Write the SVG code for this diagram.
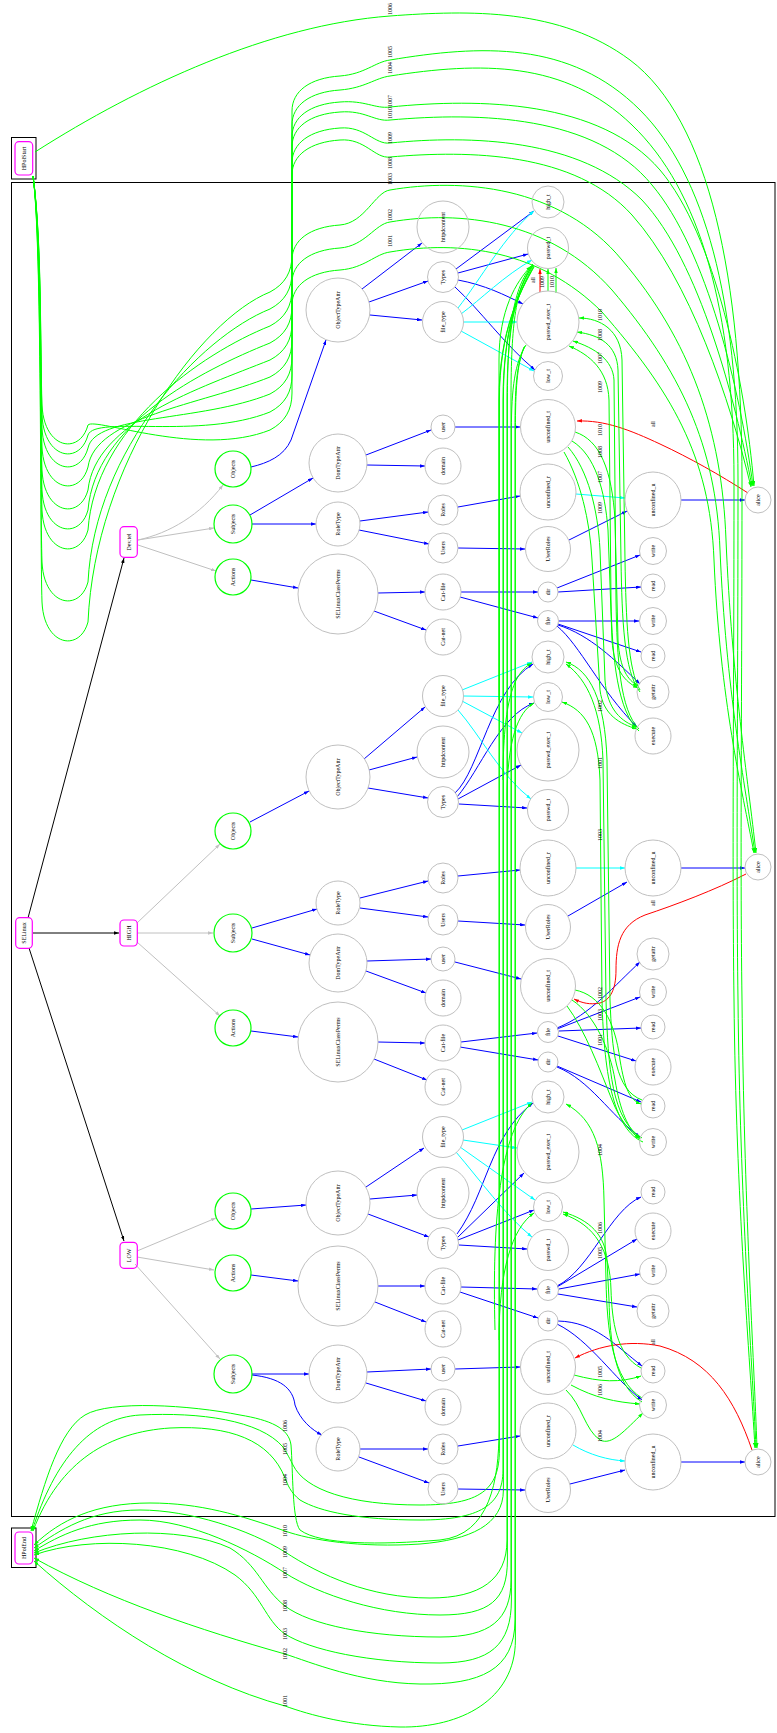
<svg xmlns="http://www.w3.org/2000/svg" width="777" height="1733" viewBox="0 0 777 1733">
<style>
text{font-family:"Liberation Serif","Times New Roman",serif;font-size:6px;text-anchor:middle;fill:#000}
.gn{fill:none;stroke:#00ff00;stroke-width:1.2}
.nn{fill:none;stroke:#c0c0c0;stroke-width:1}
.mn{fill:none;stroke:#ff00ff;stroke-width:1.2}
.cl{fill:none;stroke:#000;stroke-width:1}
.e{fill:none;stroke-width:1}
.b{stroke:#0000ff;marker-end:url(#mb)}
.c{stroke:#00ffff;marker-end:url(#mc)}
.r{stroke:#ff0000;marker-end:url(#mr)}
.k{stroke:#000;marker-end:url(#mk)}
.y{stroke:#c0c0c0;marker-end:url(#my)}
.g{stroke:#00ff00;marker-end:url(#mg)}
</style>
<defs>
<marker id="mb" viewBox="0 0 10 7" refX="10" refY="3.5" markerWidth="5" markerHeight="3.5" markerUnits="userSpaceOnUse" orient="auto"><path d="M0,0L10,3.5L0,7z" fill="#0000ff"/></marker>
<marker id="mc" viewBox="0 0 10 7" refX="10" refY="3.5" markerWidth="5" markerHeight="3.5" markerUnits="userSpaceOnUse" orient="auto"><path d="M0,0L10,3.5L0,7z" fill="#00ffff"/></marker>
<marker id="mr" viewBox="0 0 10 7" refX="10" refY="3.5" markerWidth="5" markerHeight="3.5" markerUnits="userSpaceOnUse" orient="auto"><path d="M0,0L10,3.5L0,7z" fill="#ff0000"/></marker>
<marker id="mk" viewBox="0 0 10 7" refX="10" refY="3.5" markerWidth="5" markerHeight="3.5" markerUnits="userSpaceOnUse" orient="auto"><path d="M0,0L10,3.5L0,7z" fill="#000"/></marker>
<marker id="my" viewBox="0 0 10 7" refX="10" refY="3.5" markerWidth="5" markerHeight="3.5" markerUnits="userSpaceOnUse" orient="auto"><path d="M0,0L10,3.5L0,7z" fill="#c0c0c0"/></marker>
<marker id="mg" viewBox="0 0 10 7" refX="10" refY="3.5" markerWidth="5" markerHeight="3.5" markerUnits="userSpaceOnUse" orient="auto"><path d="M0,0L10,3.5L0,7z" fill="#00ff00"/></marker>
</defs>
<rect width="777" height="1733" fill="#fff"/>
<g id="clusters">
<rect class="cl" x="11.5" y="137.5" width="24.5" height="41.5"/>
<rect class="cl" x="11.5" y="182.5" width="763.5" height="1334"/>
<rect class="cl" x="11.5" y="1528" width="24.5" height="39.5"/>
</g>
<g id="connectors">
<path class="e k" d="M28,918 L124,558"/>
<path class="e k" d="M33,933 L119,933"/>
<path class="e k" d="M29,948 L124,1241"/>
<path class="e y" d="M138,540 C170,533 200,515 223,485"/>
<path class="e y" d="M138,540 L214,528"/>
<path class="e y" d="M138,545 L216,571"/>
<path class="e y" d="M137,923 L220,844"/>
<path class="e y" d="M137,933 L213,933"/>
<path class="e y" d="M137,942 L220,1016"/>
<path class="e y" d="M137,1251 L216,1218"/>
<path class="e y" d="M137,1257 L214,1270"/>
<path class="e y" d="M135,1264 L220,1359"/>
<path class="e b" d="M251,467 C268,463 284,456 291,440 L326,340"/>
<path class="e b" d="M250,515 L313,478"/>
<path class="e b" d="M252,524 L316,524"/>
<path class="e b" d="M251,580 L298,588"/>
<path class="e b" d="M362,289 L422,243"/>
<path class="e b" d="M369,302 L428,281"/>
<path class="e b" d="M370,315 L422,320"/>
<path class="e b" d="M366,455 L431,430"/>
<path class="e b" d="M367,465 L425,466"/>
<path class="e b" d="M360,521 L428,512"/>
<path class="e b" d="M359,530 L429,544"/>
<path class="e b" d="M378,593 L425,592"/>
<path class="e b" d="M374,611 L426,630"/>
<path class="e b" d="M456,269 L534,211"/>
<path class="e b" d="M458,273 L528,254"/>
<path class="e b" d="M458,280 C485,285 505,295 523,304"/>
<path class="e b" d="M455,287 C480,310 505,345 535,370"/>
<path class="e b" d="M455,427 L520,427"/>
<path class="e b" d="M458,507 L520,496"/>
<path class="e b" d="M458,548 L525,549"/>
<path class="e b" d="M569,540 L627,511"/>
<path class="e b" d="M681,500 L745,500"/>
<path class="e b" d="M461,592 L538,592"/>
<path class="e b" d="M460,597 L538,618"/>
<path class="e b" d="M557,588 L640,555"/>
<path class="e b" d="M558,592 L641,587"/>
<path class="e b" d="M559,621 L639,621"/>
<path class="e b" d="M558,624 L641,652"/>
<path class="e b" d="M558,625 C590,635 615,660 640,684"/>
<path class="e b" d="M557,626 C580,645 600,690 637,727"/>
<path class="e c" d="M458,308 C480,280 505,235 534,211"/>
<path class="e c" d="M461,314 C480,300 505,275 532,260"/>
<path class="e c" d="M463,322 L517,322"/>
<path class="e c" d="M461,331 L534,371"/>
<path class="e c" d="M576,494 L625,498"/>
<path class="e b" d="M250,822 L309,791"/>
<path class="e b" d="M252,928 L317,909"/>
<path class="e b" d="M252,939 L310,955"/>
<path class="e b" d="M251,1031 L298,1037"/>
<path class="e b" d="M364,759 L425,707"/>
<path class="e b" d="M369,770 L417,757"/>
<path class="e b" d="M368,788 L428,798"/>
<path class="e b" d="M360,898 L428,881"/>
<path class="e b" d="M360,908 L428,917"/>
<path class="e b" d="M367,961 L431,959"/>
<path class="e b" d="M366,971 L426,993"/>
<path class="e b" d="M378,1042 L425,1043"/>
<path class="e b" d="M374,1059 L427,1080"/>
<path class="e b" d="M455,793 C480,770 490,690 533,664"/>
<path class="e b" d="M457,797 C480,770 500,715 534,703"/>
<path class="e b" d="M458,799 L521,765"/>
<path class="e b" d="M459,804 L527,808"/>
<path class="e b" d="M458,876 L520,870"/>
<path class="e b" d="M458,921 L525,925"/>
<path class="e b" d="M455,962 L521,979"/>
<path class="e b" d="M568,916 L627,882"/>
<path class="e b" d="M681,868 L745,868"/>
<path class="e b" d="M461,1042 L537,1033"/>
<path class="e b" d="M460,1047 L538,1060"/>
<path class="e b" d="M557,1028 C590,1015 615,985 640,962"/>
<path class="e b" d="M557,1029 L640,997"/>
<path class="e b" d="M559,1031 L641,1028"/>
<path class="e b" d="M558,1036 L636,1061"/>
<path class="e b" d="M557,1066 L641,1102"/>
<path class="e b" d="M557,1067 C590,1080 610,1115 640,1137"/>
<path class="e c" d="M462,690 L532,662"/>
<path class="e c" d="M463,696 L533,697"/>
<path class="e c" d="M462,701 L522,733"/>
<path class="e c" d="M458,710 C480,735 500,775 531,799"/>
<path class="e c" d="M576,868 L625,868"/>
<path class="e b" d="M251,1209 L306,1205"/>
<path class="e b" d="M251,1275 L298,1281"/>
<path class="e b" d="M252,1374 L309,1374"/>
<path class="e b" d="M252,1375 C280,1378 293,1388 295,1405 C300,1420 312,1430 322,1435"/>
<path class="e b" d="M366,1187 L424,1148"/>
<path class="e b" d="M370,1199 L417,1195"/>
<path class="e b" d="M368,1214 L429,1237"/>
<path class="e b" d="M378,1286 L425,1286"/>
<path class="e b" d="M375,1302 L426,1322"/>
<path class="e b" d="M367,1372 L431,1369"/>
<path class="e b" d="M366,1383 L426,1401"/>
<path class="e b" d="M360,1449 L428,1449"/>
<path class="e b" d="M359,1457 L429,1483"/>
<path class="e b" d="M457,1234 C487,1193 490,1135 533,1103"/>
<path class="e b" d="M458,1237 L524,1173"/>
<path class="e b" d="M458,1240 L534,1210"/>
<path class="e b" d="M459,1245 L527,1249"/>
<path class="e b" d="M461,1287 L537,1289"/>
<path class="e b" d="M460,1292 L538,1318"/>
<path class="e b" d="M557,1286 C590,1270 610,1210 641,1197"/>
<path class="e b" d="M557,1287 L637,1239"/>
<path class="e b" d="M559,1289 L640,1274"/>
<path class="e b" d="M558,1294 L637,1307"/>
<path class="e b" d="M558,1321 C595,1322 615,1345 642,1366"/>
<path class="e b" d="M557,1324 C590,1340 615,1380 642,1400"/>
<path class="e b" d="M455,1369 L520,1367"/>
<path class="e b" d="M458,1446 L520,1436"/>
<path class="e b" d="M458,1489 L525,1490"/>
<path class="e b" d="M570,1484 L625,1470"/>
<path class="e b" d="M681,1462 L745,1462"/>
<path class="e c" d="M462,1130 L532,1102"/>
<path class="e c" d="M463,1140 L517,1148"/>
<path class="e c" d="M460,1147 L535,1200"/>
<path class="e c" d="M456,1152 C480,1180 505,1215 532,1237"/>
<path class="e c" d="M573,1445 C590,1455 608,1460 625,1461"/>
<path class="e r" d="M748,493 C720,475 690,458 660,444 C630,430 605,420 577,421"/>
<path class="e r" d="M540,292 L540,269"/>
<path class="e r" d="M746,874 C715,890 675,905 645,915 C620,925 616,945 616,970 C616,990 610,1000 600,1003 C590,1005 582,1003 574,999"/>
<path class="e r" d="M752,1450 C735,1400 710,1360 660,1346 C630,1340 600,1345 575,1358"/>
<path class="e g" d="M35,152 C140,85 270,25 390,16 C470,10 560,8 630,60 C710,120 742,280 742,480 C742,700 740,850 742,1000 C744,1200 754,1360 757,1448"/>
<path class="e g" d="M33,176 C42,240 40,542 42,602 C44,647 80,652 88,622 C95,464 200,320 270,292 C285,284 292,272 292,255 L292,111 C292,91 310,78 340,76 C365,74 375,62 390,60 C480,45 570,40 640,110 C705,175 738,300 738,480 C738,700 736,850 738,1000 C740,1200 752,1360 756,1448"/>
<path class="e g" d="M33,176 C42,240 40,502 42,562 C44,607 80,612 88,582 C95,449 200,337 270,309 C285,301 292,289 292,272 L292,125 C292,105 310,92 340,90 C365,88 375,78 390,76 C480,62 565,60 632,125 C700,190 734,310 734,480 C734,700 732,850 734,1000 C736,1200 750,1360 755,1448"/>
<path class="e g" d="M33,176 C42,240 40,450 42,510 C44,555 80,560 88,530 C95,428 200,354 270,326 C285,318 292,306 292,289 L292,137 C292,117 310,104 340,102 C365,100 375,109 390,107 C480,98 600,100 660,170 C715,235 745,380 754,486"/>
<path class="e g" d="M33,176 C42,240 40,430 42,490 C44,535 80,540 88,510 C95,425 200,371 270,343 C285,335 292,323 292,306 L292,147 C292,127 310,114 340,112 C365,110 375,122 390,120 C480,112 595,115 652,185 C707,250 740,390 753,486"/>
<path class="e g" d="M33,176 C42,240 40,410 42,470 C44,515 80,520 88,490 C95,422 200,388 270,360 C285,352 292,340 292,323 L292,163 C292,143 310,130 340,128 C365,126 375,145 390,143 C470,135 580,138 642,200 C700,262 735,400 752,486"/>
<path class="e g" d="M33,176 C42,240 40,387 42,447 C44,492 80,497 88,467 C95,417 200,405 270,377 C285,369 292,357 292,340 L292,175 C292,155 310,142 340,140 C365,138 375,159 390,157 C470,150 575,152 632,215 C690,280 730,400 751,487"/>
<path class="e g" d="M33,176 C42,240 40,368 42,428 C44,473 80,478 88,448 C95,414 200,422 270,394 C285,386 292,374 292,357 L292,260 C292,240 310,227 340,225 C365,223 375,192 390,190 C460,178 560,185 622,260 C690,340 722,430 726,540 C732,680 748,780 756,853"/>
<path class="e g" d="M33,176 C42,240 40,355 42,415 C44,460 80,465 88,435 C95,415 200,440 270,412 C285,404 292,392 292,375 L292,283 C292,263 310,250 340,248 C365,246 375,224 390,222 C460,210 550,220 612,290 C680,370 716,445 720,550 C726,690 745,785 755,853"/>
<path class="e g" d="M33,176 C42,240 40,345 42,405 C44,450 80,455 88,425 C95,417 200,458 270,430 C285,422 292,410 292,393 L292,305 C292,285 310,272 340,270 C365,268 375,254 390,252 C460,240 540,250 602,312 C670,390 710,455 714,560 C720,700 742,790 754,853"/>
<path class="e g" d="M534,267 C520,292 499,330 499,400 L499,1430 C499,1480 490,1535 440,1540 C380,1545 320,1545 300,1530 C292,1520 293,1470 291,1445 C289,1428 270,1420 240,1415 C190,1405 110,1400 85,1415 C60,1430 45,1480 31,1531"/>
<path class="e g" d="M534,266 C520,292 499.4,330 499.4,400 L499.4,1450 C499.4,1490 480,1505 420,1505 C350,1505 305,1490 293,1465 C288,1455 286,1452 283,1447 C260,1420 200,1412 140,1415 C90,1418 55,1460 32,1531"/>
<path class="e g" d="M533,266 C519,292 503,330 503,400 L503,1470 C503,1505 480,1520 420,1520 C360,1520 320,1512 300,1500 C290,1492 288,1485 285,1478 C270,1440 230,1425 170,1428 C110,1432 60,1460 33,1531"/>
<path class="e g" d="M532,266 C518,290 503.4,326 503.4,400 L503.4,1490 C503.4,1525 470,1540 420,1544 C360,1548 310,1540 285,1531 C240,1515 200,1503 150,1503 C95,1503 60,1520 34,1545"/>
<path class="e g" d="M533,265 C517,288 507,324 507,400 L507,1540 C507,1580 480,1598 430,1598 C370,1598 320,1575 285,1552 C250,1530 190,1510 140,1510 C90,1510 60,1530 34,1548"/>
<path class="e g" d="M533,264 C515,285 507.4,320 507.4,400 L507.4,1560 C507.4,1600 490,1615 440,1615 C380,1615 320,1595 285,1573 C250,1550 190,1520 140,1520 C90,1520 60,1535 34,1551"/>
<path class="e g" d="M533,265 C516,287 511,322 511,400 L511,1580 C511,1620 490,1637 440,1637 C370,1637 310,1625 285,1606 C262,1588 258,1565 230,1548 C180,1525 90,1530 34,1553"/>
<path class="e g" d="M526,345 C515,362 511.4,388 511.4,430 L511.4,1600 C511.4,1645 490,1663 440,1663 C370,1663 310,1650 285,1634 C265,1620 262,1595 235,1575 C185,1540 90,1535 34,1555"/>
<path class="e g" d="M525,346 C516,364 515,390 515,430 L515,1620 C515,1670 480,1685 420,1684 C360,1683 310,1662 285,1654 C200,1630 110,1600 34,1558"/>
<path class="e g" d="M524,347 C517,365 515.4,390 515.4,430 L515.4,1640 C515.4,1700 460,1728 400,1727 C350,1726 310,1715 285,1706 C190,1680 100,1620 34,1561"/>
<path class="e g" d="M499,700 L499,360 C499,310 516,282 531,266"/>
<path class="e g" d="M503,780 C503,700 514,672 532,663"/>
<path class="e g" d="M507,800 C507,740 518,712 534,703"/>
<path class="e g" d="M495,1330 C492,1220 500,1130 532,1103"/>
<path class="e g" d="M499,1340 C499,1270 512,1228 534,1213"/>
<path class="e g" d="M548,291 L548,269"/>
<path class="e g" d="M556,293 L556,268"/>
<path class="e g" d="M575,432 C600,440 612,470 615,520 L618,640 C620,670 628,680 638,686"/>
<path class="e g" d="M572,441 C595,455 605,490 608,530 L612,640 C614,670 625,682 638,688"/>
<path class="e g" d="M568,447 C588,470 598,510 600,550 L605,680 C607,710 622,722 637,727"/>
<path class="e g" d="M564,452 C580,480 590,520 592,560 L600,690 C603,715 620,724 637,729"/>
<path class="e g" d="M640,690 C628,670 626,620 625,560 L622,360 C621,330 600,318 579,318"/>
<path class="e g" d="M640,692 C624,672 622,620 621,560 L618,370 C617,345 600,335 577,332"/>
<path class="e g" d="M639,729 C620,710 617,660 616,600 L614,380 C613,360 595,348 573,341"/>
<path class="e g" d="M639,731 C618,712 612,660 611,600 L609,400 C608,370 590,355 569,346"/>
<path class="e g" d="M575,990 C600,995 615,1020 620,1060 C625,1090 630,1100 641,1104"/>
<path class="e g" d="M572,1000 C595,1015 610,1050 615,1080 C620,1110 628,1130 640,1138"/>
<path class="e g" d="M567,1006 C585,1030 600,1070 612,1100 C620,1120 630,1132 640,1139"/>
<path class="e g" d="M642,1100 C615,1090 612,1050 610,1000 L607,760 C605,700 590,670 566,662"/>
<path class="e g" d="M642,1138 C612,1120 608,1070 606,1000 L603,760 C601,710 588,680 566,664"/>
<path class="e g" d="M643,1142 C615,1130 604,1080 602,1000 L600,780 C598,730 585,710 562,702"/>
<path class="e g" d="M574,1375 C600,1382 620,1383 641,1376"/>
<path class="e g" d="M571,1385 C595,1398 615,1402 640,1404"/>
<path class="e g" d="M566,1390 C582,1405 585,1430 600,1440 C612,1446 625,1430 643,1413"/>
<path class="e g" d="M642,1398 C612,1380 607,1330 606,1280 L604,1200 C603,1150 595,1120 566,1104"/>
<path class="e g" d="M642,1402 C614,1385 610,1340 609,1300 L607,1260 C605,1235 590,1220 563,1212"/>
<path class="e g" d="M641,1368 C616,1355 612,1320 611,1290 C610,1250 595,1225 563,1214"/>
<g id="edge-labels">
<text transform="translate(390 9) rotate(-90)" y="2">1006</text>
<text transform="translate(390 52) rotate(-90)" y="2">1005</text>
<text transform="translate(390 68) rotate(-90)" y="2">1004</text>
<text transform="translate(390 101) rotate(-90)" y="2">1007</text>
<text transform="translate(390 113) rotate(-90)" y="2">1010</text>
<text transform="translate(390 138) rotate(-90)" y="2">1009</text>
<text transform="translate(390 163) rotate(-90)" y="2">1008</text>
<text transform="translate(390 179) rotate(-90)" y="2">1003</text>
<text transform="translate(390 215) rotate(-90)" y="2">1002</text>
<text transform="translate(390 241) rotate(-90)" y="2">1001</text>
<text transform="translate(285 1426) rotate(-90)" y="2">1006</text>
<text transform="translate(285 1449) rotate(-90)" y="2">1005</text>
<text transform="translate(285 1480) rotate(-90)" y="2">1004</text>
<text transform="translate(285 1531) rotate(-90)" y="2">1010</text>
<text transform="translate(285 1552) rotate(-90)" y="2">1009</text>
<text transform="translate(285 1573) rotate(-90)" y="2">1007</text>
<text transform="translate(285 1606) rotate(-90)" y="2">1008</text>
<text transform="translate(285 1634) rotate(-90)" y="2">1003</text>
<text transform="translate(285 1654) rotate(-90)" y="2">1002</text>
<text transform="translate(285 1701) rotate(-90)" y="2">1001</text>
<text transform="translate(533 280) rotate(-90)" y="2">all</text>
<text transform="translate(542 282) rotate(-90)" y="2">1009</text>
<text transform="translate(552 282) rotate(-90)" y="2">1010</text>
<text transform="translate(600 315) rotate(-90)" y="2">1010</text>
<text transform="translate(600 335) rotate(-90)" y="2">1008</text>
<text transform="translate(600 358) rotate(-90)" y="2">1007</text>
<text transform="translate(600 387) rotate(-90)" y="2">1009</text>
<text transform="translate(600 430) rotate(-90)" y="2">1010</text>
<text transform="translate(600 452) rotate(-90)" y="2">1008</text>
<text transform="translate(600 477) rotate(-90)" y="2">1007</text>
<text transform="translate(600 508) rotate(-90)" y="2">1009</text>
<text transform="translate(653 424) rotate(-90)" y="2">all</text>
<text transform="translate(600 706) rotate(-90)" y="2">1002</text>
<text transform="translate(600 763) rotate(-90)" y="2">1001</text>
<text transform="translate(600 835) rotate(-90)" y="2">1003</text>
<text transform="translate(653 903) rotate(-90)" y="2">all</text>
<text transform="translate(600 993) rotate(-90)" y="2">1002</text>
<text transform="translate(600 1015) rotate(-90)" y="2">1003</text>
<text transform="translate(600 1040) rotate(-90)" y="2">1001</text>
<text transform="translate(600 1150) rotate(-90)" y="2">1004</text>
<text transform="translate(600 1228) rotate(-90)" y="2">1006</text>
<text transform="translate(600 1253) rotate(-90)" y="2">1005</text>
<text transform="translate(653 1342) rotate(-90)" y="2">all</text>
<text transform="translate(600 1372) rotate(-90)" y="2">1005</text>
<text transform="translate(600 1390) rotate(-90)" y="2">1006</text>
<text transform="translate(600 1436) rotate(-90)" y="2">1004</text>
</g>
</g>
<g id="hpolstart"><rect class="mn" x="15" y="141.7" width="17.7" height="33.3" rx="4"/><text transform="translate(24 158.4) rotate(-90)" y="2">HPolStart</text></g>
<g id="hpolend"><rect class="mn" x="15" y="1532" width="17.7" height="32" rx="4"/><text transform="translate(24 1548) rotate(-90)" y="2">HPolEnd</text></g>
<g id="selinux"><rect class="mn" x="15.7" y="917.7" width="16.6" height="30.6" rx="4"/><text transform="translate(24 933) rotate(-90)" y="2">SELinux</text></g>
<g id="devtel"><rect class="mn" x="120" y="526.7" width="17.3" height="30.6" rx="4"/><text transform="translate(128.7 542) rotate(-90)" y="2">Dev.tel</text></g>
<g id="high"><rect class="mn" x="120" y="920" width="17.3" height="26" rx="4"/><text transform="translate(128.7 933) rotate(-90)" y="2">HIGH</text></g>
<g id="low"><rect class="mn" x="120" y="1242.3" width="17.3" height="26" rx="4"/><text transform="translate(128.7 1255.3) rotate(-90)" y="2">LOW</text></g>
<g id="d-objects"><circle class="gn" cx="233" cy="469" r="18"/><text transform="translate(233 469) rotate(-90)" y="2">Objects</text></g>
<g id="d-subjects"><circle class="gn" cx="233" cy="524" r="19"/><text transform="translate(233 524) rotate(-90)" y="2">Subjects</text></g>
<g id="d-actions"><circle class="gn" cx="233" cy="577" r="18"/><text transform="translate(233 577) rotate(-90)" y="2">Actions</text></g>
<g id="d-objtypeattr"><circle class="nn" cx="338" cy="310" r="32"/><text transform="translate(338 310) rotate(-90)" y="2">ObjectTypeAttr</text></g>
<g id="d-domtypeattr"><circle class="nn" cx="338" cy="463" r="29"/><text transform="translate(338 463) rotate(-90)" y="2">DomTypeAttr</text></g>
<g id="d-roletype"><circle class="nn" cx="338" cy="524" r="22"/><text transform="translate(338 524) rotate(-90)" y="2">RoleType</text></g>
<g id="d-classperms"><circle class="nn" cx="338" cy="594" r="40"/><text transform="translate(338 594) rotate(-90)" y="2">SELinuxClassPerms</text></g>
<g id="d-httpdcontent"><circle class="nn" cx="443" cy="227" r="26"/><text transform="translate(443 227) rotate(-90)" y="2">httpdcontent</text></g>
<g id="d-types"><circle class="nn" cx="443" cy="277" r="15.5"/><text transform="translate(443 277) rotate(-90)" y="2">Types</text></g>
<g id="d-filetype"><circle class="nn" cx="443" cy="322" r="20.5"/><text transform="translate(443 322) rotate(-90)" y="2">file_type</text></g>
<g id="d-user"><circle class="nn" cx="443" cy="427" r="12"/><text transform="translate(443 427) rotate(-90)" y="2">user</text></g>
<g id="d-domain"><circle class="nn" cx="443" cy="466" r="18"/><text transform="translate(443 466) rotate(-90)" y="2">domain</text></g>
<g id="d-roles"><circle class="nn" cx="443" cy="510" r="15"/><text transform="translate(443 510) rotate(-90)" y="2">Roles</text></g>
<g id="d-users"><circle class="nn" cx="443" cy="548" r="15"/><text transform="translate(443 548) rotate(-90)" y="2">Users</text></g>
<g id="d-catfile"><circle class="nn" cx="443" cy="592" r="18"/><text transform="translate(443 592) rotate(-90)" y="2">Cat-file</text></g>
<g id="d-catnet"><circle class="nn" cx="443" cy="637" r="18"/><text transform="translate(443 637) rotate(-90)" y="2">Cat-net</text></g>
<g id="d-high_t"><circle class="nn" cx="548" cy="202" r="16"/><text transform="translate(548 202) rotate(-90)" y="2">high_t</text></g>
<g id="d-passwd_t"><circle class="nn" cx="548" cy="248" r="20.5"/><text transform="translate(548 248) rotate(-90)" y="2">passwd_t</text></g>
<g id="d-passwd_exec_t"><circle class="nn" cx="548" cy="322" r="31"/><text transform="translate(548 322) rotate(-90)" y="2">passwd_exec_t</text></g>
<g id="d-low_t"><circle class="nn" cx="548" cy="376" r="14.5"/><text transform="translate(548 376) rotate(-90)" y="2">low_t</text></g>
<g id="d-unconfined_t"><circle class="nn" cx="548" cy="427" r="27.5"/><text transform="translate(548 427) rotate(-90)" y="2">unconfined_t</text></g>
<g id="d-unconfined_r"><circle class="nn" cx="548" cy="492" r="28"/><text transform="translate(548 492) rotate(-90)" y="2">unconfined_r</text></g>
<g id="d-userroles"><circle class="nn" cx="548" cy="549" r="22.5"/><text transform="translate(548 549) rotate(-90)" y="2">UserRoles</text></g>
<g id="d-dir"><circle class="nn" cx="548" cy="592" r="10"/><text transform="translate(548 592) rotate(-90)" y="2">dir</text></g>
<g id="d-file"><circle class="nn" cx="548" cy="621" r="10.5"/><text transform="translate(548 621) rotate(-90)" y="2">file</text></g>
<g id="d-unconfined_u"><circle class="nn" cx="653" cy="500" r="28"/><text transform="translate(653 500) rotate(-90)" y="2">unconfined_u</text></g>
<g id="d-write1"><circle class="nn" cx="653" cy="551" r="13.5"/><text transform="translate(653 551) rotate(-90)" y="2">write</text></g>
<g id="d-read1"><circle class="nn" cx="653" cy="586" r="12"/><text transform="translate(653 586) rotate(-90)" y="2">read</text></g>
<g id="d-write2"><circle class="nn" cx="653" cy="621" r="13.5"/><text transform="translate(653 621) rotate(-90)" y="2">write</text></g>
<g id="d-read2"><circle class="nn" cx="653" cy="656" r="12"/><text transform="translate(653 656) rotate(-90)" y="2">read</text></g>
<g id="d-getattr"><circle class="nn" cx="653" cy="692" r="16"/><text transform="translate(653 692) rotate(-90)" y="2">getattr</text></g>
<g id="d-execute"><circle class="nn" cx="653" cy="736" r="18"/><text transform="translate(653 736) rotate(-90)" y="2">execute</text></g>
<g id="d-alice"><circle class="nn" cx="758" cy="500" r="13"/><text transform="translate(758 500) rotate(-90)" y="2">alice</text></g>
<g id="h-objects"><circle class="gn" cx="233" cy="831" r="18"/><text transform="translate(233 831) rotate(-90)" y="2">Objects</text></g>
<g id="h-subjects"><circle class="gn" cx="233" cy="933" r="19"/><text transform="translate(233 933) rotate(-90)" y="2">Subjects</text></g>
<g id="h-actions"><circle class="gn" cx="233" cy="1028" r="18"/><text transform="translate(233 1028) rotate(-90)" y="2">Actions</text></g>
<g id="h-objtypeattr"><circle class="nn" cx="338" cy="777" r="32"/><text transform="translate(338 777) rotate(-90)" y="2">ObjectTypeAttr</text></g>
<g id="h-roletype"><circle class="nn" cx="338" cy="903" r="22"/><text transform="translate(338 903) rotate(-90)" y="2">RoleType</text></g>
<g id="h-domtypeattr"><circle class="nn" cx="338" cy="963" r="29"/><text transform="translate(338 963) rotate(-90)" y="2">DomTypeAttr</text></g>
<g id="h-classperms"><circle class="nn" cx="338" cy="1042" r="40"/><text transform="translate(338 1042) rotate(-90)" y="2">SELinuxClassPerms</text></g>
<g id="h-filetype"><circle class="nn" cx="443" cy="696" r="20.5"/><text transform="translate(443 696) rotate(-90)" y="2">file_type</text></g>
<g id="h-httpdcontent"><circle class="nn" cx="443" cy="752" r="26"/><text transform="translate(443 752) rotate(-90)" y="2">httpdcontent</text></g>
<g id="h-types"><circle class="nn" cx="443" cy="802" r="15.5"/><text transform="translate(443 802) rotate(-90)" y="2">Types</text></g>
<g id="h-roles"><circle class="nn" cx="443" cy="878" r="15"/><text transform="translate(443 878) rotate(-90)" y="2">Roles</text></g>
<g id="h-users"><circle class="nn" cx="443" cy="920" r="15"/><text transform="translate(443 920) rotate(-90)" y="2">Users</text></g>
<g id="h-user"><circle class="nn" cx="443" cy="959" r="12"/><text transform="translate(443 959) rotate(-90)" y="2">user</text></g>
<g id="h-domain"><circle class="nn" cx="443" cy="998" r="18"/><text transform="translate(443 998) rotate(-90)" y="2">domain</text></g>
<g id="h-catfile"><circle class="nn" cx="443" cy="1043" r="18"/><text transform="translate(443 1043) rotate(-90)" y="2">Cat-file</text></g>
<g id="h-catnet"><circle class="nn" cx="443" cy="1087" r="18"/><text transform="translate(443 1087) rotate(-90)" y="2">Cat-net</text></g>
<g id="h-high_t"><circle class="nn" cx="548" cy="657" r="16"/><text transform="translate(548 657) rotate(-90)" y="2">high_t</text></g>
<g id="h-low_t"><circle class="nn" cx="548" cy="697" r="14.5"/><text transform="translate(548 697) rotate(-90)" y="2">low_t</text></g>
<g id="h-passwd_exec_t"><circle class="nn" cx="548" cy="750" r="31"/><text transform="translate(548 750) rotate(-90)" y="2">passwd_exec_t</text></g>
<g id="h-passwd_t"><circle class="nn" cx="548" cy="810" r="20.5"/><text transform="translate(548 810) rotate(-90)" y="2">passwd_t</text></g>
<g id="h-unconfined_r"><circle class="nn" cx="548" cy="868" r="28"/><text transform="translate(548 868) rotate(-90)" y="2">unconfined_r</text></g>
<g id="h-userroles"><circle class="nn" cx="548" cy="927" r="22.5"/><text transform="translate(548 927) rotate(-90)" y="2">UserRoles</text></g>
<g id="h-unconfined_t"><circle class="nn" cx="548" cy="986" r="27.5"/><text transform="translate(548 986) rotate(-90)" y="2">unconfined_t</text></g>
<g id="h-file"><circle class="nn" cx="548" cy="1032" r="10.5"/><text transform="translate(548 1032) rotate(-90)" y="2">file</text></g>
<g id="h-dir"><circle class="nn" cx="548" cy="1062" r="10"/><text transform="translate(548 1062) rotate(-90)" y="2">dir</text></g>
<g id="h-unconfined_u"><circle class="nn" cx="653" cy="868" r="28"/><text transform="translate(653 868) rotate(-90)" y="2">unconfined_u</text></g>
<g id="h-getattr"><circle class="nn" cx="653" cy="954" r="16"/><text transform="translate(653 954) rotate(-90)" y="2">getattr</text></g>
<g id="h-write1"><circle class="nn" cx="653" cy="992" r="13.5"/><text transform="translate(653 992) rotate(-90)" y="2">write</text></g>
<g id="h-read1"><circle class="nn" cx="653" cy="1027" r="12"/><text transform="translate(653 1027) rotate(-90)" y="2">read</text></g>
<g id="h-execute"><circle class="nn" cx="653" cy="1067" r="18"/><text transform="translate(653 1067) rotate(-90)" y="2">execute</text></g>
<g id="h-read2"><circle class="nn" cx="653" cy="1106" r="12"/><text transform="translate(653 1106) rotate(-90)" y="2">read</text></g>
<g id="h-write2"><circle class="nn" cx="653" cy="1142" r="13.5"/><text transform="translate(653 1142) rotate(-90)" y="2">write</text></g>
<g id="h-alice"><circle class="nn" cx="758" cy="867" r="13"/><text transform="translate(758 867) rotate(-90)" y="2">alice</text></g>
<g id="l-objects"><circle class="gn" cx="233" cy="1211" r="18"/><text transform="translate(233 1211) rotate(-90)" y="2">Objects</text></g>
<g id="l-actions"><circle class="gn" cx="233" cy="1273" r="18"/><text transform="translate(233 1273) rotate(-90)" y="2">Actions</text></g>
<g id="l-subjects"><circle class="gn" cx="233" cy="1374" r="19"/><text transform="translate(233 1374) rotate(-90)" y="2">Subjects</text></g>
<g id="l-objtypeattr"><circle class="nn" cx="338" cy="1203" r="32"/><text transform="translate(338 1203) rotate(-90)" y="2">ObjectTypeAttr</text></g>
<g id="l-classperms"><circle class="nn" cx="338" cy="1286" r="40"/><text transform="translate(338 1286) rotate(-90)" y="2">SELinuxClassPerms</text></g>
<g id="l-domtypeattr"><circle class="nn" cx="338" cy="1374" r="29"/><text transform="translate(338 1374) rotate(-90)" y="2">DomTypeAttr</text></g>
<g id="l-roletype"><circle class="nn" cx="338" cy="1449" r="22"/><text transform="translate(338 1449) rotate(-90)" y="2">RoleType</text></g>
<g id="l-filetype"><circle class="nn" cx="443" cy="1137" r="20.5"/><text transform="translate(443 1137) rotate(-90)" y="2">file_type</text></g>
<g id="l-httpdcontent"><circle class="nn" cx="443" cy="1193" r="26"/><text transform="translate(443 1193) rotate(-90)" y="2">httpdcontent</text></g>
<g id="l-types"><circle class="nn" cx="443" cy="1243" r="15.5"/><text transform="translate(443 1243) rotate(-90)" y="2">Types</text></g>
<g id="l-catfile"><circle class="nn" cx="443" cy="1286" r="18"/><text transform="translate(443 1286) rotate(-90)" y="2">Cat-file</text></g>
<g id="l-catnet"><circle class="nn" cx="443" cy="1329" r="18"/><text transform="translate(443 1329) rotate(-90)" y="2">Cat-net</text></g>
<g id="l-user"><circle class="nn" cx="443" cy="1369" r="12"/><text transform="translate(443 1369) rotate(-90)" y="2">user</text></g>
<g id="l-domain"><circle class="nn" cx="443" cy="1407" r="18"/><text transform="translate(443 1407) rotate(-90)" y="2">domain</text></g>
<g id="l-roles"><circle class="nn" cx="443" cy="1449" r="15"/><text transform="translate(443 1449) rotate(-90)" y="2">Roles</text></g>
<g id="l-users"><circle class="nn" cx="443" cy="1489" r="15"/><text transform="translate(443 1489) rotate(-90)" y="2">Users</text></g>
<g id="l-high_t"><circle class="nn" cx="548" cy="1097" r="16"/><text transform="translate(548 1097) rotate(-90)" y="2">high_t</text></g>
<g id="l-passwd_exec_t"><circle class="nn" cx="548" cy="1152" r="31"/><text transform="translate(548 1152) rotate(-90)" y="2">passwd_exec_t</text></g>
<g id="l-low_t"><circle class="nn" cx="548" cy="1207" r="14.5"/><text transform="translate(548 1207) rotate(-90)" y="2">low_t</text></g>
<g id="l-passwd_t"><circle class="nn" cx="548" cy="1250" r="20.5"/><text transform="translate(548 1250) rotate(-90)" y="2">passwd_t</text></g>
<g id="l-file"><circle class="nn" cx="548" cy="1290" r="10.5"/><text transform="translate(548 1290) rotate(-90)" y="2">file</text></g>
<g id="l-dir"><circle class="nn" cx="548" cy="1321" r="10"/><text transform="translate(548 1321) rotate(-90)" y="2">dir</text></g>
<g id="l-unconfined_t"><circle class="nn" cx="548" cy="1367" r="27.5"/><text transform="translate(548 1367) rotate(-90)" y="2">unconfined_t</text></g>
<g id="l-unconfined_r"><circle class="nn" cx="548" cy="1431" r="28"/><text transform="translate(548 1431) rotate(-90)" y="2">unconfined_r</text></g>
<g id="l-userroles"><circle class="nn" cx="548" cy="1490" r="22.5"/><text transform="translate(548 1490) rotate(-90)" y="2">UserRoles</text></g>
<g id="l-read1"><circle class="nn" cx="653" cy="1192" r="12"/><text transform="translate(653 1192) rotate(-90)" y="2">read</text></g>
<g id="l-execute"><circle class="nn" cx="653" cy="1231" r="18"/><text transform="translate(653 1231) rotate(-90)" y="2">execute</text></g>
<g id="l-write1"><circle class="nn" cx="653" cy="1271" r="13.5"/><text transform="translate(653 1271) rotate(-90)" y="2">write</text></g>
<g id="l-getattr"><circle class="nn" cx="653" cy="1311" r="16"/><text transform="translate(653 1311) rotate(-90)" y="2">getattr</text></g>
<g id="l-read2"><circle class="nn" cx="653" cy="1371" r="12"/><text transform="translate(653 1371) rotate(-90)" y="2">read</text></g>
<g id="l-write2"><circle class="nn" cx="653" cy="1405" r="13.5"/><text transform="translate(653 1405) rotate(-90)" y="2">write</text></g>
<g id="l-unconfined_u"><circle class="nn" cx="653" cy="1462" r="28"/><text transform="translate(653 1462) rotate(-90)" y="2">unconfined_u</text></g>
<g id="l-alice"><circle class="nn" cx="758" cy="1462" r="13"/><text transform="translate(758 1462) rotate(-90)" y="2">alice</text></g>
</svg>
